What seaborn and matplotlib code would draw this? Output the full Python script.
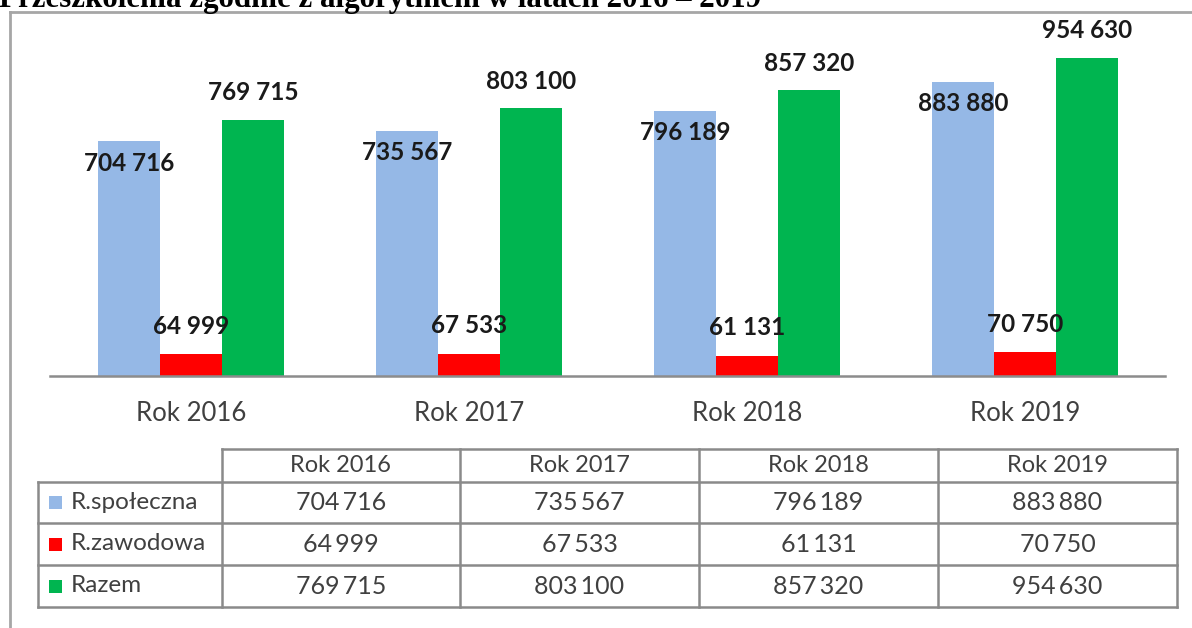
import matplotlib
matplotlib.use("Agg")
import matplotlib.pyplot as plt
import seaborn as sns
import pandas as pd
from matplotlib.lines import Line2D
from matplotlib.patches import Rectangle

# ---- data ----
years = ["Rok 2016", "Rok 2017", "Rok 2018", "Rok 2019"]
series = ["R.społeczna", "R.zawodowa", "Razem"]
spoleczna = [704716, 735567, 796189, 883880]
zawodowa = [64999, 67533, 61131, 70750]
razem = [769715, 803100, 857320, 954630]
colors = ["#95B8E6", "#FF0000", "#00B550"]
title = "Przeszkolenia zgodnie z algorytmem w latach 2016 – 2019"

values = [spoleczna, zawodowa, razem]


def fmt(v, sep=" "):
    return f"{v:,}".replace(",", sep)


W, H = 1192, 628
fig = plt.figure(figsize=(W / 100, H / 100), dpi=100)
fig.patch.set_facecolor("white")


def fx(px):
    return px / W


def fy(py):
    return 1 - py / H


FONT = "Lato"
TXT = "#404040"

# ---- bar chart ----
ax = fig.add_axes([fx(50), fy(376), (1165 - 50) / W, (376 - 20) / H])
df = pd.DataFrame({
    "year": years * len(series),
    "series": [s for s in series for _ in years],
    "value": spoleczna + zawodowa + razem,
})
sns.barplot(data=df, x="year", y="value", hue="series", palette=colors,
            width=0.67, saturation=1, linewidth=0, legend=False, ax=ax,
            errorbar=None)
ax.set_ylim(0, 356 * 954630 / 318)
ax.set_xlim(-0.507, 3.504)
ax.set_xlabel("")
ax.set_ylabel("")
ax.set_yticks([])
for s in ["left", "top", "right"]:
    ax.spines[s].set_visible(False)
ax.spines["bottom"].set_color("#8c8c8c")
ax.spines["bottom"].set_linewidth(1.8)
ax.tick_params(axis="x", length=0, pad=18, labelsize=18.5, labelcolor=TXT)
for lab in ax.get_xticklabels():
    lab.set_fontfamily(FONT)
ax.patch.set_alpha(0)

offsets = [-22, 28, 27]
for cont, off, vals in zip(ax.containers, offsets, values):
    for patch, v in zip(cont.patches, vals):
        xc = patch.get_x() + patch.get_width() / 2
        ax.annotate(fmt(v), (xc, patch.get_height()), xytext=(0, off),
                    textcoords="offset pixels", ha="center", va="center",
                    fontsize=17.5, fontweight="bold", color="#1a1a1a",
                    family=FONT, annotation_clip=False)

# ---- data table ----
LC = "#8a8a8a"
LW = 1.8
col_edges = [222, 460, 699, 938, 1177]
row_edges = [449, 482, 523, 565, 607]
left_edge = 38


def hline(y, x0, x1):
    fig.add_artist(Line2D([fx(x0), fx(x1)], [fy(y), fy(y)], color=LC, lw=LW))


def vline(x, y0, y1):
    fig.add_artist(Line2D([fx(x), fx(x)], [fy(y0), fy(y1)], color=LC, lw=LW))


hline(row_edges[0], col_edges[0], col_edges[-1])
for y in row_edges[1:]:
    hline(y, left_edge, col_edges[-1])
vline(left_edge, row_edges[1], row_edges[-1])
for x in col_edges:
    vline(x, row_edges[0], row_edges[-1])

# header
for i, yr in enumerate(years):
    xc = (col_edges[i] + col_edges[i + 1]) / 2
    yc = (row_edges[0] + row_edges[1]) / 2
    fig.text(fx(xc), fy(yc), yr, ha="center", va="center", fontsize=17,
             color=TXT, family=FONT)

for r, (name, vals, col) in enumerate(zip(series, values, colors)):
    yc = (row_edges[r + 1] + row_edges[r + 2]) / 2
    fig.add_artist(Rectangle((fx(49), fy(yc + 6.5)), 13 / W, 13 / H,
                             facecolor=col, edgecolor="none"))
    fig.text(fx(71), fy(yc), name, ha="left", va="center", fontsize=17.5,
             color=TXT, family=FONT)
    for i, v in enumerate(vals):
        xc = (col_edges[i] + col_edges[i + 1]) / 2
        fig.text(fx(xc), fy(yc), fmt(v, "\u2009"), ha="center", va="center",
                 fontsize=18, color=TXT, family=FONT)

# ---- outer frame and cut-off title ----
fig.add_artist(Line2D([fx(10), fx(10)], [fy(12), fy(H + 5)], color="#a6a6a6", lw=2))
fig.add_artist(Line2D([fx(10), fx(W + 5)], [fy(12), fy(12)], color="#a6a6a6", lw=2))
fig.text(fx(-1), fy(7), title, ha="left", va="baseline", fontsize=22.3,
         fontweight="bold", family="Liberation Serif", color="black")

fig.savefig("out.png", dpi=100, facecolor="white")
